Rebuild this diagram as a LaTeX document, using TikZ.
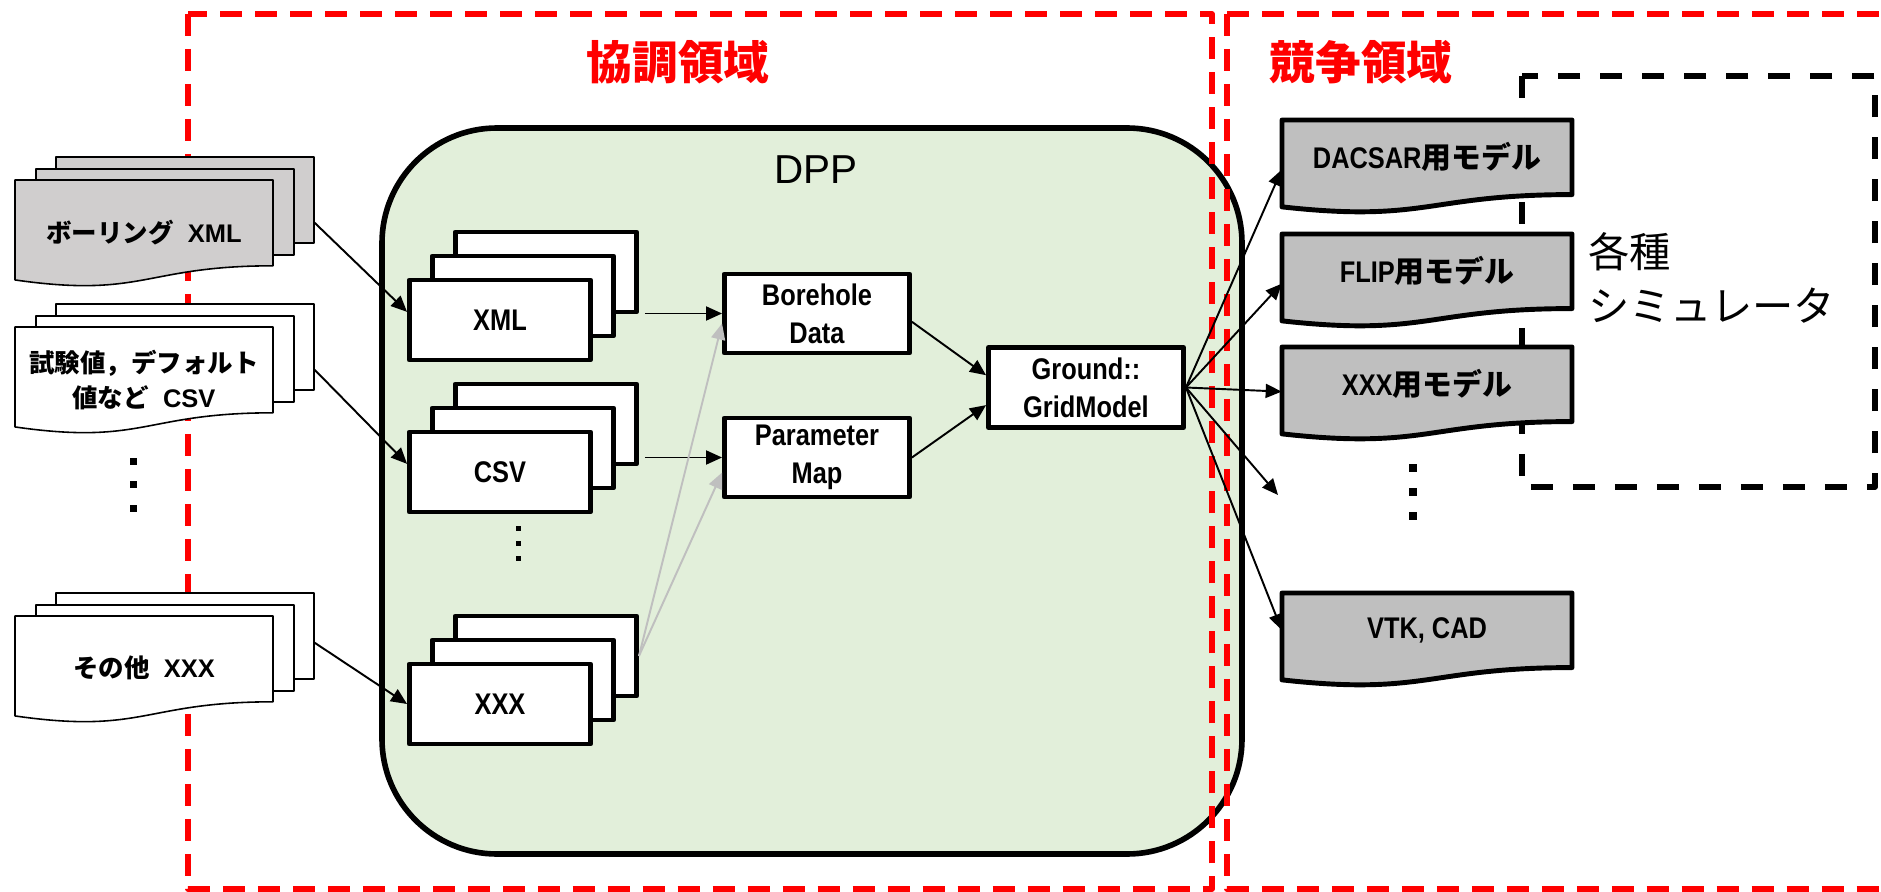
\documentclass[tikz,border=0pt]{standalone}
\usepackage{fontspec}
\setmainfont{Liberation Sans}
\newfontfamily\jpfont{Noto Sans CJK JP}
\newfontfamily\narrowfont{Liberation Sans}[FakeStretch=0.85]
\usetikzlibrary{arrows.meta}

% wave-bottom page: x, y of top left corner, width, height, style
\newcommand{\wavedoc}[5]{%
  \filldraw[#5] (#1,#2) -- ({#1+#3},#2) -- ({#1+#3},{#2+0.802*#4})
    .. controls ({#1+0.5*#3},{#2+0.802*#4}) and ({#1+0.5*#3},{#2+1.1075*#4})
    .. (#1,{#2+0.934*#4}) -- cycle;}

\begin{document}
\begin{tikzpicture}[x=0.02cm, y=-0.02cm, line join=round,
    inpage/.style={draw=black, line width=0.9pt, fill=#1, minimum width=5.16cm,
      minimum height=1.72cm, inner sep=0pt},
    intext/.style={align=center, font=\bfseries\fontsize{14.5}{19.8}\selectfont},
    stackbox/.style={draw=black, line width=2.8pt, fill=white, minimum width=3.62cm,
      minimum height=1.6cm, inner sep=0pt, font=\narrowfont\bfseries\fontsize{17}{21.5}\selectfont},
    databox/.style={stackbox, align=center, minimum width=3.7cm, minimum height=1.58cm},
    outtext/.style={minimum width=5.8cm, minimum height=1.49cm, inner sep=0pt,
      font=\narrowfont\bfseries\fontsize{17}{20}\selectfont},
    redzone/.style={draw=red, line width=0.115cm, dash pattern=on 0.44cm off 0.26cm},
    simzone/.style={draw=black, line width=0.115cm, dash pattern=on 0.44cm off 0.4cm},
    arr/.style={-{Triangle[length=0.32cm,width=0.28cm]}, line width=1.1pt},
    grayarr/.style={arr, draw=arrowgray, color=arrowgray}]
    \definecolor{dppgreen}{RGB}{226, 239, 218}
    \definecolor{pagegray}{RGB}{208, 206, 206}
    \definecolor{outgray}{RGB}{191, 191, 191}
    \definecolor{arrowgray}{RGB}{191, 191, 191}
    \useasboundingbox (0,0) rectangle (1881,892);

    % DPP and the two zones
    \filldraw[fill=dppgreen, draw=black, line width=3.2pt, rounded corners=2.3cm]
        (382,128) rectangle (1242,854);
    \node[font=\fontsize{23}{26}\selectfont] (dpp) at (816,170) {DPP};
    \draw[redzone] (188,14) rectangle (1212,889);
    \draw[redzone] (1227,14) rectangle (1920,889);
    \draw[simzone] (1522,76) rectangle (1875,487);
    \node[red, font=\jpfont\bfseries\fontsize{26}{30}\selectfont] (coop) at (678,62) {協調領域};
    \node[red, font=\jpfont\bfseries\fontsize{26}{30}\selectfont] (comp) at (1361,62) {競争領域};
    \node[anchor=west, align=left, font=\jpfont\fontsize{23.5}{31}\selectfont] (sim) at (1582,278)
        {各種\\シミュレータ};

    % input files
    \node[inpage=pagegray] (bor-3) at (185,200) {};
    \node[inpage=pagegray] (bor-2) at (165,212) {};
    \wavedoc{15}{180}{258}{107}{fill=pagegray, draw=black, line width=0.9pt}
    \node[intext] (bor) at (144,233) {{\jpfont ボーリング}\ \ XML};

    \node[inpage=white] (test-3) at (185,347) {};
    \node[inpage=white] (test-2) at (165,359) {};
    \wavedoc{15}{327}{258}{107}{fill=white, draw=black, line width=0.9pt}
    \node[intext] (test) at (144,380) {{\jpfont 試験値，デフォルト}\\{\jpfont 値など}\ \ CSV};

    \node[inpage=white] (misc-3) at (185,636) {};
    \node[inpage=white] (misc-2) at (165,648) {};
    \wavedoc{15}{616}{258}{107}{fill=white, draw=black, line width=0.9pt}
    \node[intext] (misc) at (144,668) {{\jpfont その他}\ \ XXX};

    \fill (129.5,457.5) rectangle (136.5,464.5);
    \fill (129.5,480.5) rectangle (136.5,487.5);
    \fill (129.5,504.5) rectangle (136.5,511.5);

    % readers inside DPP
    \node[stackbox] (xml-3) at (546,272) {};
    \node[stackbox] (xml-2) at (523,296) {};
    \node[stackbox] (xml) at (500,320) {XML};

    \node[stackbox] (csv-3) at (546,424) {};
    \node[stackbox] (csv-2) at (523,448) {};
    \node[stackbox] (csv) at (500,472) {CSV};

    \node[stackbox] (xxx-3) at (546,656) {};
    \node[stackbox] (xxx-2) at (523,680) {};
    \node[stackbox] (xxx) at (500,704) {XXX};

    \fill (515.5,525.5) rectangle (520.5,530.5);
    \fill (515.5,540.5) rectangle (520.5,545.5);
    \fill (515.5,555.5) rectangle (520.5,560.5);

    \node[databox] (bore) at (817,313.5) {Borehole\\Data};
    \node[databox] (par) at (817,457.5) {Parameter\\Map};
    \node[databox, minimum width=3.9cm, minimum height=1.6cm] (grid) at (1086,387.5)
        {Ground::\\GridModel};

    % output models
    \wavedoc{1282}{120}{290}{93}{fill=outgray, draw=black, line width=2.8pt}
    \node[outtext] (dac) at (1427,157) {DACSAR{\jpfont 用モデル}};
    \wavedoc{1282}{234}{290}{93}{fill=outgray, draw=black, line width=2.8pt}
    \node[outtext] (flip) at (1427,271) {FLIP{\jpfont 用モデル}};
    \wavedoc{1282}{347}{290}{93}{fill=outgray, draw=black, line width=2.8pt}
    \node[outtext] (xxxm) at (1427,384) {XXX{\jpfont 用モデル}};
    \wavedoc{1282}{593}{290}{93}{fill=outgray, draw=black, line width=2.8pt}
    \node[outtext] (vtk) at (1427,630) {VTK, CAD};
    \coordinate (more) at (1278,495);

    \fill (1409,464) rectangle (1417,472);
    \fill (1409,488) rectangle (1417,496);
    \fill (1409,512) rectangle (1417,520);

    % connectors
    \draw[arr] (bor-3.-10) -- (xml.175);
    \draw[arr] (test-3.-10) -- (csv.175);
    \draw[arr] (misc-3.-3) -- (xxx.west);

    \path (xml-3.east |- bore.west) coordinate (xmlout);
    \path (csv-3.east |- par.west) coordinate (csvout);
    \draw[arr] ([xshift=0.12cm]xmlout) -- (bore.west);
    \draw[arr] ([xshift=0.12cm]csvout) -- (par.west);
    \draw[grayarr] (xxx-3.east) -- (bore.186);
    \draw[grayarr] (xxx-3.east) -- (par.189);

    \draw[arr] (bore.-5) -- (grid.173);
    \draw[arr] (par.east) -- (grid.190);

    \draw[arr] (grid.east) -- (dac.185);
    \draw[arr] (grid.east) -- (flip.185);
    \draw[arr] (grid.east) -- (xxxm.183);
    \draw[arr] (grid.east) -- (more);
    \draw[arr] (grid.east) -- (vtk.west);
\end{tikzpicture}
\end{document}
